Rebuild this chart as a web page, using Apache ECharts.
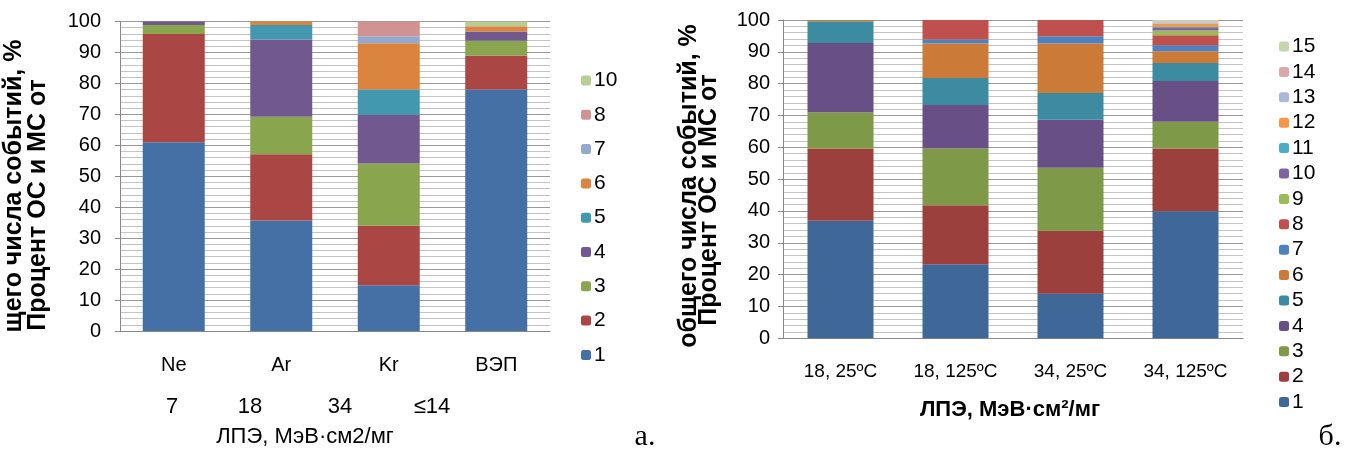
<!DOCTYPE html>
<html><head><meta charset="utf-8">
<script src="https://cdn.jsdelivr.net/npm/echarts@6/dist/echarts.min.js"></script>
<style>html,body{margin:0;padding:0;background:#fff}#c{width:1345px;height:454px}</style>
</head><body><div id="c"></div>
<script>
// ---- data: chart а ----
const catsA = ['Ne', 'Ar', 'Kr', 'ВЭП'];
const namesA = ['1', '2', '3', '4', '5', '6', '7', '8', '10'];
const a1 = [61.0, 35.7, 14.8, 78.0];
const a2 = [35.0, 21.4, 19.2, 11.0];
const a3 = [2.9, 12.1, 20.1, 4.8];
const a4 = [1.1, 25.0, 15.8, 3.0];
const a5 = [0, 4.7, 8.1, 0];
const a6 = [0, 1.1, 15.0, 1.7];
const a7 = [0, 0, 2.2, 0];
const a8 = [0, 0, 4.8, 0];
const a10 = [0, 0, 0, 1.5];
const letLabelsA = ['7', '18', '34', '≤14'];
// ---- data: chart б ----
const catsB = ['18, 25ºC', '18, 125ºC', '34, 25ºC', '34, 125ºC'];
const namesB = ['1','2','3','4','5','6','7','8','9','10','11','12','13','14','15'];
const b1 = [36.9, 23.3, 14.0, 39.9];
const b2 = [22.7, 18.5, 19.8, 19.7];
const b3 = [11.4, 17.8, 19.8, 8.4];
const b4 = [21.8, 13.7, 15.1, 12.8];
const b5 = [6.8, 8.5, 8.4, 5.7];
const b6 = [0.4, 10.8, 15.5, 3.7];
const b7 = [0, 1.3, 2.3, 1.9];
const b8 = [0, 6.1, 5.1, 3.1];
const b9 = [0, 0, 0, 1.5];
const b10 = [0, 0, 0, 0.8];
const b11 = [0, 0, 0, 0.3];
const b12 = [0, 0, 0, 1.0];
const b13 = [0, 0, 0, 0.4];
const b14 = [0, 0, 0, 0.4];
const b15 = [0, 0, 0, 0.4];
const yTicks = [0, 100, 10];

const dataA = [a1, a2, a3, a4, a5, a6, a7, a8, a10];
const dataB = [b1,b2,b3,b4,b5,b6,b7,b8,b9,b10,b11,b12,b13,b14,b15];
const colorsA = ['#4470A6','#AA4644','#89A54E','#71588F','#4198AF','#DB843D','#93A9CF','#D19392','#B9CD96'];
const colorsB = ['#3F6899','#9C403D','#7E9A49','#684F86','#3C8BA1','#CC7A37','#4F81BD','#C0504D','#9BBB59','#8064A2','#4BACC6','#F79646','#A9BAD6','#D9AAA9','#C6D6AC'];

const FONT = "'Liberation Sans',Arial,sans-serif";

const series = [];
namesA.forEach((n, i) => series.push({
  name: n, type: 'bar', stack: 'a', xAxisIndex: 0, yAxisIndex: 0,
  barWidth: 62, data: dataA[i], itemStyle: {color: colorsA[i]}
}));
namesB.forEach((n, i) => series.push({
  name: 'r' + n, type: 'bar', stack: 'b', xAxisIndex: 1, yAxisIndex: 1,
  barWidth: 66, data: dataB[i], itemStyle: {color: colorsB[i]}
}));

function yAxis(grid, fs, margin) {
  return {
    type: 'value', gridIndex: grid, min: yTicks[0], max: yTicks[1], interval: yTicks[2],
    axisLine: {show: true, lineStyle: {color: '#888'}},
    axisTick: {show: true, length: 5, lineStyle: {color: '#888'}},
    axisLabel: {color: '#000', fontSize: fs, fontFamily: FONT, margin: margin},
    splitLine: {show: true, lineStyle: {color: '#999', width: 1}},
    minorTick: {show: false, splitNumber: 5},
    minorSplitLine: {show: true, lineStyle: {color: '#c4c4c4', width: 1}}
  };
}
function xAxis(grid, cats, fs, margin) {
  return {
    type: 'category', gridIndex: grid, data: cats,
    axisLine: {show: true, lineStyle: {color: '#888'}},
    axisTick: {show: false},
    axisLabel: {color: '#000', fontSize: fs, fontFamily: FONT, margin: margin, interval: 0}
  };
}

const graphic = [];
function rotText(x, y, text, fs, bold, font) {
  graphic.push({type: 'text', x: x, y: y, rotation: Math.PI / 2,
    style: {text: text, fill: '#000', font: (bold ? 'bold ' : '') + fs + 'px ' + font,
      textAlign: 'center', textVerticalAlign: 'middle'}});
}
function hText(x, y, text, fs, bold, font) {
  graphic.push({type: 'text', x: x, y: y,
    style: {text: text, fill: '#000', font: (bold ? 'bold ' : '') + fs + 'px ' + font,
      textAlign: 'center', textVerticalAlign: 'middle'}});
}
rotText(38, 205, 'Процент ОС и МС от', 25, true, FONT);
rotText(14, 186, 'щего числа событий, %', 25, true, FONT);
rotText(709, 200, 'Процент ОС и МС от', 25, true, FONT);
rotText(689, 186, 'общего числа событий, %', 25, true, FONT);
const letX = [172, 250, 340, 432];
letLabelsA.forEach((t, i) => hText(letX[i], 407, t, 22, false, FONT));
hText(305, 437, 'ЛПЭ, МэВ·см2/мг', 22, false, FONT);
hText(1010, 410, 'ЛПЭ, МэВ·см²/мг', 22, true, FONT);
hText(645, 437, 'а.', 30, false, "'Liberation Serif','Times New Roman',serif");
hText(1330, 437, 'б.', 30, false, "'Liberation Serif','Times New Roman',serif");

const chart = echarts.init(document.getElementById('c'), null, {renderer: 'canvas'});
chart.setOption({
  animation: false,
  backgroundColor: '#fff',
  grid: [
    {left: 120, right: 795, top: 21.5, bottom: 123},
    {left: 783, right: 102, top: 20, bottom: 115.7}
  ],
  xAxis: [xAxis(0, catsA, 20, 24), xAxis(1, catsB, 19, 24)],
  yAxis: [yAxis(0, 20, 19), yAxis(1, 20, 13)],
  legend: [
    {orient: 'vertical', left: 576, top: 65, itemWidth: 10, itemHeight: 10, itemGap: 13.3,
     data: namesA.slice().reverse(), selectedMode: false,
     textStyle: {fontSize: 21, fontFamily: FONT, color: '#000', lineHeight: 20, padding: [0, 0, 0, -2]}},
    {orient: 'vertical', left: 1274, top: 31, itemWidth: 10, itemHeight: 10, itemGap: 4.4,
     data: namesB.map(n => 'r' + n).reverse(), selectedMode: false,
     formatter: n => n.slice(1),
     textStyle: {fontSize: 21, fontFamily: FONT, color: '#000', lineHeight: 20, padding: [0, 0, 0, -2]}}
  ],
  graphic: graphic,
  series: series
});
</script></body></html>
